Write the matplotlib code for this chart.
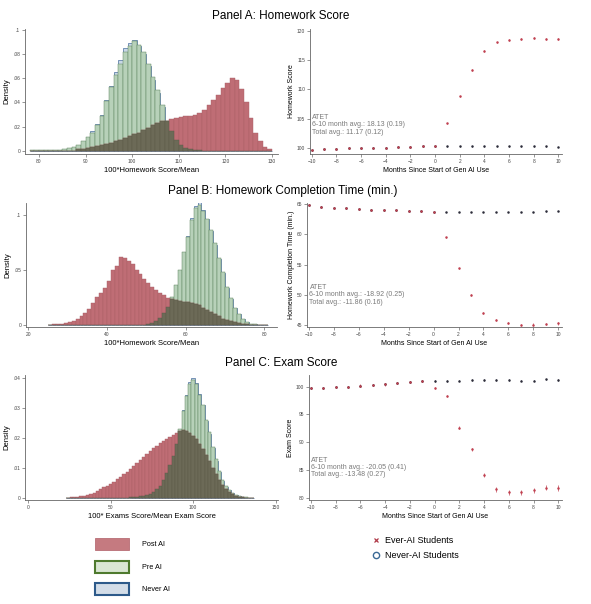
import numpy as np
import matplotlib
matplotlib.use("Agg")
import matplotlib.pyplot as plt
from matplotlib.patches import Patch
from matplotlib.lines import Line2D
from matplotlib.ticker import FuncFormatter

plt.rcParams['font.family'] = ['Liberation Sans', 'DejaVu Sans']

# ---- histogram data (density per bin) ----
# Panel A: 100*Homework Score/Mean, bins of width 1
a_width = 1
a_post_start = 88
a_post = [0.001, 0.0015, 0.002, 0.0028, 0.0035, 0.0045, 0.0055, 0.0065, 0.0078, 0.009, 0.0105, 0.012,
          0.0135, 0.015, 0.017, 0.019, 0.021, 0.023, 0.025, 0.025, 0.026, 0.027,
          0.028, 0.029, 0.029, 0.030, 0.031, 0.034, 0.038, 0.042, 0.046, 0.052,
          0.056, 0.060, 0.059, 0.051, 0.040, 0.027, 0.015, 0.008, 0.003, 0.001]
a_pre_start = 78
a_pre = [0.0002, 0.0002, 0.0003, 0.0003, 0.0004, 0.0006, 0.0008, 0.001, 0.002, 0.003, 0.005, 0.008,
         0.011, 0.015, 0.021, 0.029, 0.041, 0.053, 0.063, 0.072, 0.082, 0.087, 0.091, 0.088,
         0.082, 0.072, 0.061, 0.050, 0.038, 0.025, 0.016, 0.009, 0.005, 0.0025, 0.0012, 0.0005, 0.0002]
a_never_start = 80
a_never = [0.0002, 0.0003, 0.0004, 0.0005, 0.0007, 0.001, 0.002, 0.003, 0.005, 0.008, 0.011, 0.016,
           0.022, 0.030, 0.042, 0.054, 0.065, 0.075, 0.085, 0.089, 0.092, 0.087, 0.080, 0.070,
           0.059, 0.048, 0.036, 0.024, 0.015, 0.008, 0.0045, 0.002, 0.001, 0.0004]

# Panel B: homework completion time, bins of width 1
b_width = 1
b_post_start = 25
b_post = [0.0005, 0.001, 0.0012, 0.0015, 0.002, 0.003, 0.004, 0.006, 0.008, 0.011,
          0.015, 0.020, 0.026, 0.029, 0.034, 0.040, 0.050, 0.054, 0.062, 0.061,
          0.058, 0.055, 0.050, 0.046, 0.042, 0.038, 0.035, 0.032, 0.029, 0.027,
          0.025, 0.024, 0.023, 0.022, 0.021, 0.021, 0.020, 0.019, 0.018, 0.016,
          0.014, 0.012, 0.010, 0.008, 0.006, 0.005, 0.004, 0.003, 0.002, 0.0015, 0.001, 0.0005]
b_pre_start = 49
b_pre = [0.0005, 0.001, 0.002, 0.004, 0.007, 0.011, 0.017, 0.026, 0.036, 0.050, 0.066, 0.080,
         0.095, 0.106, 0.109, 0.103, 0.096, 0.086, 0.074, 0.061, 0.048, 0.035, 0.025, 0.016,
         0.010, 0.006, 0.003, 0.0015, 0.001, 0.0005, 0.0003, 0.0002]
b_never_start = 49
b_never = [0.0004, 0.0009, 0.0018, 0.0037, 0.0068, 0.011, 0.017, 0.025, 0.035, 0.049, 0.065, 0.081,
           0.097, 0.108, 0.111, 0.104, 0.096, 0.085, 0.073, 0.060, 0.047, 0.034, 0.024, 0.016,
           0.010, 0.0055, 0.003, 0.0015, 0.0008, 0.0004, 0.0002, 0.0001]

# Panel C: 100*Exam Score/Mean, bins of width 2
c_width = 2
c_post_start = 23
c_post = [0.0002, 0.0003, 0.0004, 0.0005, 0.0007, 0.0009, 0.0012, 0.0015, 0.0019, 0.0024,
          0.003, 0.0036, 0.0042, 0.0047, 0.0055, 0.0063, 0.0072, 0.008, 0.0088, 0.0096,
          0.0106, 0.0116, 0.0126, 0.0136, 0.0146, 0.0156, 0.0166, 0.0175, 0.0183, 0.019,
          0.0198, 0.0205, 0.021, 0.0218, 0.0224, 0.0226, 0.0225, 0.0218, 0.0208, 0.0196,
          0.0182, 0.0165, 0.0145, 0.0123, 0.0101, 0.008, 0.006, 0.0044, 0.003, 0.002,
          0.0013, 0.0008, 0.0005, 0.0003, 0.0002]
c_pre_start = 59
c_pre = [0.0002, 0.0003, 0.0004, 0.0005, 0.0006, 0.0008, 0.001, 0.0014, 0.002, 0.003,
         0.0042, 0.006, 0.0083, 0.011, 0.014, 0.018, 0.023, 0.029, 0.034, 0.038,
         0.0395, 0.038, 0.0345, 0.031, 0.026, 0.022, 0.017, 0.013, 0.009, 0.006,
         0.004, 0.0028, 0.0018, 0.0012, 0.0008, 0.0005, 0.0003, 0.0002, 0.0001]
c_never_start = 59
c_never = [0.0001, 0.0002, 0.0003, 0.0004, 0.0005, 0.0007, 0.0009, 0.0013, 0.0019, 0.0028,
           0.004, 0.0058, 0.0081, 0.0108, 0.0139, 0.018, 0.0232, 0.0293, 0.0345, 0.0388,
           0.0402, 0.0385, 0.0348, 0.031, 0.0258, 0.0215, 0.0166, 0.0125, 0.0087, 0.0058,
           0.0038, 0.0026, 0.0017, 0.0011, 0.0007, 0.0004, 0.0002, 0.0001, 0.0001]

# ---- event study data ----
months = list(range(-10, 11))

a_ever_pts = [99.6, 99.8, 99.9, 100.0, 100.0, 100.1, 100.1, 100.2, 100.2, 100.3, 100.3,
              104.2, 108.8, 113.3, 116.6, 118.0, 118.4, 118.6, 118.7, 118.6, 118.6]
a_ever_se = [0.08] * 11 + [0.10, 0.12, 0.13, 0.14, 0.15, 0.16, 0.17, 0.18, 0.19, 0.20]
a_never_pts = [99.6, 99.8, 99.9, 100.0, 100.0, 100.1, 100.1, 100.2, 100.2, 100.3, 100.3,
               100.3, 100.3, 100.3, 100.3, 100.3, 100.3, 100.3, 100.3, 100.3, 100.2]
a_never_se = [0.05] * 21

b_ever_pts = [64.9, 64.6, 64.4, 64.3, 64.2, 64.1, 64.0, 64.0, 63.9, 63.8, 63.7,
              59.5, 54.4, 50.0, 47.0, 45.9, 45.4, 45.1, 45.1, 45.2, 45.3]
b_ever_se = [0.08] * 11 + [0.10, 0.12, 0.13, 0.14, 0.15, 0.16, 0.17, 0.18, 0.19, 0.20]
b_never_pts = [64.9, 64.6, 64.4, 64.3, 64.2, 64.1, 64.0, 64.0, 63.9, 63.8, 63.7,
               63.7, 63.7, 63.7, 63.7, 63.7, 63.7, 63.7, 63.7, 63.8, 63.9]
b_never_se = [0.05] * 21

c_ever_pts = [99.8, 99.8, 100.0, 100.0, 100.2, 100.3, 100.4, 100.6, 100.8, 101.0, 99.8,
              98.3, 92.6, 88.7, 84.0, 81.5, 81.0, 81.0, 81.3, 81.8, 81.7]
c_ever_se = [0.2] * 10 + [0.2, 0.25, 0.3, 0.3, 0.35, 0.4, 0.45, 0.45, 0.5, 0.5, 0.5]
c_never_pts = [99.8, 99.8, 100.0, 100.0, 100.2, 100.3, 100.4, 100.6, 100.8, 101.0, 101.0,
               101.0, 101.1, 101.2, 101.2, 101.2, 101.2, 101.1, 101.1, 101.3, 101.2]
c_never_se = [0.15] * 21

atet_a = "ATET\n6-10 month avg.: 18.13 (0.19)\nTotal avg.: 11.17 (0.12)"
atet_b = "ATET\n6-10 month avg.: -18.92 (0.25)\nTotal avg.: -11.86 (0.16)"
atet_c = "ATET\n6-10 month avg.: -20.05 (0.41)\nTotal avg.: -13.48 (0.27)"

# ---- style ----
RED = '#bf6d75'
RED_EDGE = '#a85f66'
GREEN = '#b7d1b9'
GREEN_EDGE = '#5f8660'
BLUE = '#c9d8e6'
BLUE_EDGE = '#4a6fa0'
DARK = '#6c6a57'
EVER = '#c04050'
NEVER = '#2d2d3a'

W, H = 591, 604
fig = plt.figure(figsize=(W / 100, H / 100), dpi=100)


def px_axes(l, t, r, b):
    return fig.add_axes([l / W, 1 - b / H, (r - l) / W, (b - t) / H])


def on_grid(start, vals, lo, n, w):
    out = np.zeros(n)
    i = int(round((start - lo) / w))
    out[i:i + len(vals)] = vals
    return out


def style(ax):
    for s in ['top', 'right']:
        ax.spines[s].set_visible(False)
    for s in ['left', 'bottom']:
        ax.spines[s].set_color('#666666')
        ax.spines[s].set_linewidth(0.6)
    ax.tick_params(labelsize=3.5, length=2, width=0.4, colors='#444444', pad=1.5)


def stata_fmt(v, pos):
    s = ('%g' % v)
    if s.startswith('0.'):
        s = s[1:]
    return s


def hist_panel(ax, w, post_start, post, pre_start, pre, never_start, never):
    lo = min(post_start, pre_start, never_start)
    hi = max(post_start + len(post) * w, pre_start + len(pre) * w, never_start + len(never) * w)
    n = int(round((hi - lo) / w))
    x = lo + np.arange(n) * w
    p = on_grid(post_start, post, lo, n, w)
    g = on_grid(pre_start, pre, lo, n, w)
    nv = on_grid(never_start, never, lo, n, w)
    ax.bar(x, nv, width=w, align='edge', color=BLUE, edgecolor=BLUE_EDGE, linewidth=0.5)
    ax.bar(x, g, width=w, align='edge', color=GREEN, edgecolor=GREEN_EDGE, linewidth=0.35)
    ax.bar(x, p, width=w, align='edge', color=RED, edgecolor=RED_EDGE, linewidth=0.3)
    ax.bar(x, np.minimum(p, g), width=w, align='edge', color=DARK, edgecolor='#5a5848', linewidth=0.3)
    style(ax)
    ax.yaxis.set_major_formatter(FuncFormatter(stata_fmt))
    ax.set_ylabel('Density', fontsize=5.5, labelpad=2)


def event_panel(ax, ever, ever_se, never, never_se, ylabel, atet, atet_y):
    ax.errorbar(months, never, yerr=never_se, fmt='o', ms=0.8, color=NEVER,
                elinewidth=0.5, capsize=0)
    ax.errorbar(months, ever, yerr=ever_se, fmt='o', ms=0.8, color=EVER,
                elinewidth=0.5, capsize=0)
    style(ax)
    ax.set_xlim(-10.15, 10.3)
    ax.set_xticks(range(-10, 11, 2))
    ax.set_xlabel('Months Since Start of Gen AI Use', fontsize=5, labelpad=2)
    ax.set_ylabel(ylabel, fontsize=5, labelpad=1.5)
    ax.text(-9.95, atet_y, atet, fontsize=5, color='#7a7a7a', va='top', ha='left', linespacing=1.05)


# Panel A
ax = px_axes(25, 29, 278, 154)
hist_panel(ax, a_width, a_post_start, a_post, a_pre_start, a_pre, a_never_start, a_never)
ax.set_xlim(77, 131.3)
ax.set_ylim(-0.0028, 0.101)
ax.set_xticks([80, 90, 100, 110, 120, 130])
ax.set_yticks([0, 0.02, 0.04, 0.06, 0.08, 0.1])
ax.set_xlabel('100*Homework Score/Mean', fontsize=5.5, labelpad=2)

ax = px_axes(310, 29, 562, 154)
event_panel(ax, a_ever_pts, a_ever_se, a_never_pts, a_never_se, 'Homework Score', atet_a, 105.8)
ax.set_ylim(99.0, 120.3)
ax.set_yticks([100, 105, 110, 115, 120])

# Panel B
ax = px_axes(26, 203, 277, 327)
hist_panel(ax, b_width, b_post_start, b_post, b_pre_start, b_pre, b_never_start, b_never)
ax.set_xlim(19.4, 83.2)
ax.set_ylim(-0.0015, 0.1105)
ax.set_xticks([20, 40, 60, 80])
ax.set_yticks([0, 0.05, 0.1])
ax.set_xlabel('100*Homework Score/Mean', fontsize=5.5, labelpad=2)

ax = px_axes(307, 203, 562, 327)
event_panel(ax, b_ever_pts, b_ever_se, b_never_pts, b_never_se, 'Homework Completion Time (min.)', atet_b, 51.8)
ax.set_ylim(44.7, 65.2)
ax.set_yticks([45, 50, 55, 60, 65])

# Panel C
ax = px_axes(25, 375, 278, 500)
hist_panel(ax, c_width, c_post_start, c_post, c_pre_start, c_pre, c_never_start, c_never)
ax.set_xlim(-2, 151.5)
ax.set_ylim(-0.0006, 0.0411)
ax.set_xticks([0, 50, 100, 150])
ax.set_yticks([0, 0.01, 0.02, 0.03, 0.04])
ax.set_xlabel('100* Exams Score/Mean Exam Score', fontsize=5.5, labelpad=2)

ax = px_axes(309, 375, 562, 500)
event_panel(ax, c_ever_pts, c_ever_se, c_never_pts, c_never_se, 'Exam Score', atet_c, 87.4)
ax.set_ylim(79.57, 102.1)
ax.set_yticks([80, 85, 90, 95, 100])

# titles
fig.text(281 / W, 1 - 16 / H, 'Panel A: Homework Score', fontsize=8.5, ha='center', va='center')
fig.text(283 / W, 1 - 191 / H, 'Panel B: Homework Completion Time (min.)', fontsize=8.5, ha='center', va='center')
fig.text(281 / W, 1 - 363 / H, 'Panel C: Exam Score', fontsize=8.5, ha='center', va='center')

# legends
hist_handles = [
    Patch(facecolor='#c57a80', edgecolor='#b86e75', linewidth=0.6, label='Post AI'),
    Patch(facecolor='#d9e6d3', edgecolor='#4e7a2e', linewidth=1.5, label='Pre AI'),
    Patch(facecolor='#d3dde8', edgecolor='#2d5a8a', linewidth=1.5, label='Never AI'),
]
fig.legend(handles=hist_handles, loc='upper left', bbox_to_anchor=(95 / W, 1 - 538 / H),
           frameon=False, fontsize=5.2, handlelength=4.7, handleheight=2.2,
           labelspacing=1.45, handletextpad=1.8, borderpad=0, borderaxespad=0)

pt_handles = [
    Line2D([], [], linestyle='none', marker='x', color='#b03a48', markersize=3.5, mew=0.9,
           label='Ever-AI Students'),
    Line2D([], [], linestyle='none', marker='o', mfc='none', mec='#3b6a96', markersize=4.5, mew=1,
           label='Never-AI Students'),
]
fig.legend(handles=pt_handles, loc='upper left', bbox_to_anchor=(371 / W, 1 - 536 / H),
           frameon=False, fontsize=6.5, handlelength=1.0, handletextpad=0.6,
           labelspacing=0.7, borderpad=0, borderaxespad=0)

fig.savefig('out.png', dpi=100)
